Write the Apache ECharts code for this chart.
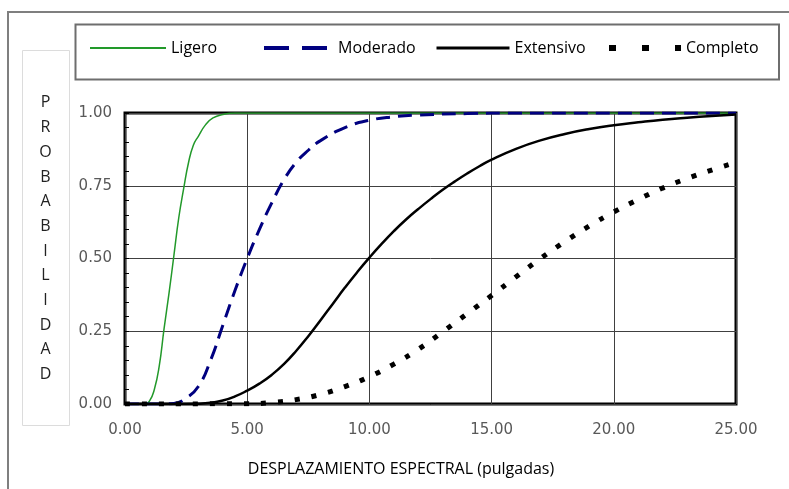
<!DOCTYPE html>
<html>
<head>
<meta charset="utf-8">
<title>Curvas de fragilidad</title>
<script src="https://cdn.jsdelivr.net/npm/echarts@6/dist/echarts.min.js"></script>
<style>
  html, body { margin: 0; padding: 0; background: #fff; }
  #chart { width: 789px; height: 489px; }
</style>
</head>
<body>
<div id="chart"></div>
<script>
// Fragility curves: probability of reaching each damage state vs spectral displacement (in)
const xTicks = [0, 5, 10, 15, 20, 25];
const yTicks = [0, 0.25, 0.5, 0.75, 1];

const ligeroX = [0, 0.5, 0.8, 1.0, 1.2, 1.4, 1.6, 1.8, 2.0, 2.2, 2.4, 2.6, 2.8, 3.0, 3.3, 3.6, 4.0, 4.5, 5, 10, 15, 20, 25];
const ligeroY = [0, 0, 0, 0.01, 0.05, 0.13, 0.26, 0.38, 0.51, 0.64, 0.74, 0.83, 0.89, 0.92, 0.96, 0.983, 0.995, 1, 1, 1, 1, 1, 1];

const moderadoX = [0, 1, 1.5, 2.0, 2.5, 3.0, 3.5, 4.0, 4.5, 5.0, 5.5, 6.0, 6.5, 7.0, 7.5, 8.0, 9.0, 10, 11, 12, 14, 16, 20, 25];
const moderadoY = [0, 0, 0, 0.002, 0.02, 0.06, 0.15, 0.27, 0.39, 0.50, 0.60, 0.69, 0.77, 0.83, 0.872, 0.905, 0.95, 0.975, 0.987, 0.993, 0.998, 1, 1, 1];

const extensivoX = [0, 2, 3, 3.5, 4, 4.5, 5, 5.5, 6, 6.5, 7, 7.5, 8, 8.5, 9, 9.5, 10, 10.5, 11, 11.5, 12, 12.5, 13, 13.5, 14, 14.5, 15, 16, 17, 18, 19, 20, 21, 22, 23, 24, 25];
const extensivoY = [0, 0, 0.001, 0.004, 0.012, 0.026, 0.046, 0.07, 0.1, 0.137, 0.182, 0.233, 0.288, 0.344, 0.4, 0.453, 0.503, 0.55, 0.594, 0.634, 0.67, 0.704, 0.736, 0.765, 0.792, 0.817, 0.84, 0.877, 0.906, 0.928, 0.945, 0.958, 0.968, 0.977, 0.984, 0.99, 0.995];

const completoX = [0, 5, 6, 7, 8, 9, 10, 11, 12, 13, 14, 15, 16, 17, 18, 19, 20, 21, 22, 23, 24, 25];
const completoY = [0, 0.001, 0.005, 0.015, 0.033, 0.06, 0.094, 0.137, 0.188, 0.248, 0.31, 0.373, 0.437, 0.5, 0.558, 0.612, 0.66, 0.703, 0.742, 0.775, 0.804, 0.83];

const yTitle = 'PROBABILIDAD';
const xTitle = 'DESPLAZAMIENTO ESPECTRAL (pulgadas)';

const zip = (xs, ys) => xs.map((x, i) => [x, ys[i]]);
const fmt = v => v.toFixed(2);

const chart = echarts.init(document.getElementById('chart'), null, { renderer: 'canvas' });

const legendText = { fontFamily: 'Open Sans', fontSize: 16, color: '#000' };
const legendBase = {
  top: 40, itemHeight: 16, itemGap: 0, padding: 0, textStyle: legendText, selectedMode: false,
  itemStyle: { opacity: 0, borderWidth: 0 }
};

const option = {
  animation: false,
  backgroundColor: '#fff',
  grid: {
    left: 125, right: 53, top: 113, bottom: 85,
    show: true, borderColor: '#000', borderWidth: 3, backgroundColor: 'transparent'
  },
  xAxis: {
    type: 'value', min: xTicks[0], max: xTicks[xTicks.length - 1], interval: xTicks[1] - xTicks[0],
    axisLine: { show: false },
    axisTick: { show: false },
    splitLine: { show: true, lineStyle: { color: '#404040', width: 1 } },
    axisLabel: { formatter: fmt, color: '#595959', fontFamily: 'DejaVu Sans', fontSize: 15, margin: 19 }
  },
  yAxis: {
    type: 'value', min: yTicks[0], max: yTicks[yTicks.length - 1], interval: yTicks[1] - yTicks[0],
    axisLine: { show: false },
    axisTick: { show: true, inside: true, length: 4, lineStyle: { color: '#000' } },
    minorTick: { show: true, splitNumber: 5, length: 4, lineStyle: { color: '#000' } },
    splitLine: { show: true, lineStyle: { color: '#404040', width: 1 } },
    axisLabel: { formatter: fmt, color: '#595959', fontFamily: 'DejaVu Sans', fontSize: 15, margin: 13 }
  },
  legend: [
    Object.assign({}, legendBase, { data: ['Ligero'], left: 89, itemWidth: 76, lineStyle: { width: 2 } }),
    Object.assign({}, legendBase, { data: ['Moderado'], left: 262, itemWidth: 69, lineStyle: { width: 4, type: [25, 13] } }),
    Object.assign({}, legendBase, { data: ['Extensivo'], left: 435, itemWidth: 73, lineStyle: { width: 3 } }),
    Object.assign({}, legendBase, { data: ['Completo'], left: 606, itemWidth: 72, lineStyle: { width: 6, type: [7, 26], cap: 'butt' } })
  ],
  graphic: [
    { type: 'rect', silent: true, z: -1, shape: { x: 8, y: 12, width: 900, height: 600 },
      style: { fill: 'none', stroke: '#7f7f7f', lineWidth: 2 } },
    { type: 'rect', silent: true, shape: { x: 75.5, y: 24.5, width: 703.5, height: 55 },
      style: { fill: 'none', stroke: '#6e6e6e', lineWidth: 2 } },
    { type: 'rect', silent: true, shape: { x: 22.5, y: 50.5, width: 47, height: 375 },
      style: { fill: 'none', stroke: '#dcdcdc', lineWidth: 1 } },
    { type: 'text', silent: true, x: 45.5, y: 90.5,
      style: { text: yTitle.split('').join('\n'), align: 'center', verticalAlign: 'top',
               fontFamily: 'Open Sans', fontSize: 16, lineHeight: 24.7, fill: '#222' } },
    { type: 'text', silent: true, x: 401, y: 469,
      style: { text: xTitle, align: 'center', verticalAlign: 'middle',
               fontFamily: 'Open Sans', fontSize: 16, fill: '#000' } }
  ],
  series: [
    { name: 'Ligero', type: 'line', data: zip(ligeroX, ligeroY), symbol: 'none', showSymbol: false,
      smooth: 0.5,
      lineStyle: { color: '#22992a', width: 1.5 }, itemStyle: { color: '#22992a' } },
    { name: 'Moderado', type: 'line', data: zip(moderadoX, moderadoY), symbol: 'none', showSymbol: false,
      smooth: 0.5,
      lineStyle: { color: '#000080', width: 3, type: [14, 8] }, itemStyle: { color: '#000080' } },
    { name: 'Extensivo', type: 'line', data: zip(extensivoX, extensivoY), symbol: 'none', showSymbol: false,
      smooth: 0.5,
      lineStyle: { color: '#000', width: 2.5 }, itemStyle: { color: '#000' } },
    { name: 'Completo', type: 'line', data: zip(completoX, completoY), symbol: 'none', showSymbol: false,
      smooth: 0.5,
      lineStyle: { color: '#000', width: 5, type: [5, 12], cap: 'butt' }, itemStyle: { color: '#000' } }
  ]
};

chart.setOption(option);
</script>
</body>
</html>
